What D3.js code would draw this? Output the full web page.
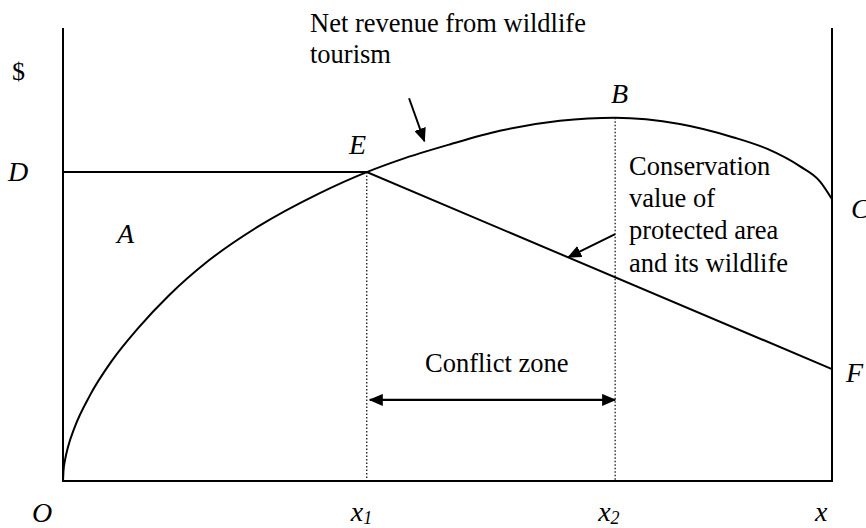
<!DOCTYPE html>
<html>
<head>
<meta charset="utf-8">
<script src="https://cdn.jsdelivr.net/npm/d3@7"></script>
<style>
  body { margin: 0; background: #fff; }
  svg { display: block; }
  svg text { font-family: "Liberation Serif", "Times New Roman", Times, serif; fill: #000; }
</style>
</head>
<body>
<svg id="chart" width="866" height="528" font-family="Liberation Serif, Times New Roman, serif"></svg>
<script>
"use strict";

// net revenue from wildlife tourism (x = area, y = $)
const revenue_x = [0, 0.07, 0.26, 0.65, 1.5, 3.5, 6.3, 9.8, 13.8, 18.9, 25.4, 33.2, 39.5, 43.8, 50.3, 56.8, 64.6, 71.8, 80.2, 87.1, 91.6, 95.8, 98.4, 100];
const revenue_y = [0, 2.4, 4.6, 7.5, 11.8, 18.9, 26.4, 33.8, 41.0, 48.6, 56.2, 63.4, 68.2, 70.9, 74.3, 77.3, 79.5, 80.2, 78.8, 75.9, 73.3, 69.5, 66.2, 62.2];

// conservation value: flat at D up to E, then falling to F
const conservation_x = [0, 39.5, 100];
const conservation_y = [68.2, 68.2, 24.7];

// x1 = E, x2 = B
const x_marks = [39.5, 71.8];
const conflict_y = 17.9;

// annotation arrows [from, to]
const arrows = [
	[[45.0, 84.5], [47.0, 75.0]],
	[[71.8, 54.5], [65.7, 49.4]]
];

const svg = d3.select("#chart");

let x = d3.scaleLinear().domain([0, 100]).range([63, 832]);
let y = d3.scaleLinear().domain([0, 100]).range([481, 28]);

//arrow heads
let defs = svg.append("defs");
defs.append("marker")
	.attr("id", "head")
	.attr("markerUnits", "userSpaceOnUse")
	.attr("viewBox", "0 0 14 12")
	.attr("refX", 13).attr("refY", 6)
	.attr("markerWidth", 14).attr("markerHeight", 12)
	.attr("orient", "auto-start-reverse")
	.append("path")
	.attr("d", "M0,0 L14,6 L0,12 Z")
	.attr("fill", "#000");

let line = d3.line()
	.x(function(d) { return x(d[0]); })
	.y(function(d) { return y(d[1]); });

let g = svg.append("g")
	.attr("fill", "none")
	.attr("stroke", "#000");

//axes: left, bottom and the right boundary
g.append("path")
	.attr("stroke-width", 2)
	.attr("d", line([[0, 100], [0, 0], [100, 0], [100, 100]]));

//dotted drop lines at x1 and x2
let levels = [conservation_y[1], d3.max(revenue_y)];
x_marks.forEach(function(m, i) {
	g.append("line")
		.attr("x1", x(m)).attr("x2", x(m))
		.attr("y1", y(levels[i])).attr("y2", y(0))
		.attr("stroke-width", 1.2)
		.attr("stroke-dasharray", "1.5,2");
});

//curves
g.append("path")
	.attr("stroke-width", 2)
	.attr("d", line.curve(d3.curveMonotoneX)(d3.zip(revenue_x, revenue_y)));
line.curve(d3.curveLinear);

g.append("path")
	.attr("stroke-width", 2)
	.attr("d", line(d3.zip(conservation_x, conservation_y)));

//annotation arrows
for (let a of arrows)
{
	g.append("path")
		.attr("stroke-width", 2)
		.attr("marker-end", "url(#head)")
		.attr("d", line(a));
}

//conflict zone double arrow
g.append("path")
	.attr("stroke-width", 2.2)
	.attr("marker-start", "url(#head)")
	.attr("marker-end", "url(#head)")
	.attr("d", line([[x_marks[0] + 0.4, conflict_y], [x_marks[1], conflict_y]]));

//labels
let labels = svg.append("g").attr("font-size", 26.5);

function put(txt, px, py, italic, size)
{
	return labels.append("text")
		.attr("x", px).attr("y", py)
		.attr("font-style", italic ? "italic" : null)
		.attr("font-size", size || null)
		.text(txt);
}

put("Net revenue from wildlife", 310, 31.5);
put("tourism", 310, 63);

["Conservation", "value of", "protected area", "and its wildlife"].forEach(function(t, i) {
	put(t, 629, 175 + i * 32.2);
});

put("Conflict zone", 425, 371.5);

put("$", 12, 80, false, 26);
put("D", 8, 181, true, 28);
put("A", 117, 243, true, 28);
put("E", 349, 154, true, 28);
put("B", 611, 103, true, 28);
put("C", 851, 218, true, 28);
put("F", 846, 382, true, 28);
put("O", 32, 522, true, 28);

//axis marks on x
let ticks = [["1", x(x_marks[0]) - 16], ["2", x(x_marks[1]) - 17], ["", x(100) - 17]];
for (let t of ticks)
{
	let lab = put("x", t[1], 521, true, 28);
	if (t[0]) lab.append("tspan").attr("font-size", 18).attr("dy", 3).text(t[0]);
}
</script>
</body>
</html>
